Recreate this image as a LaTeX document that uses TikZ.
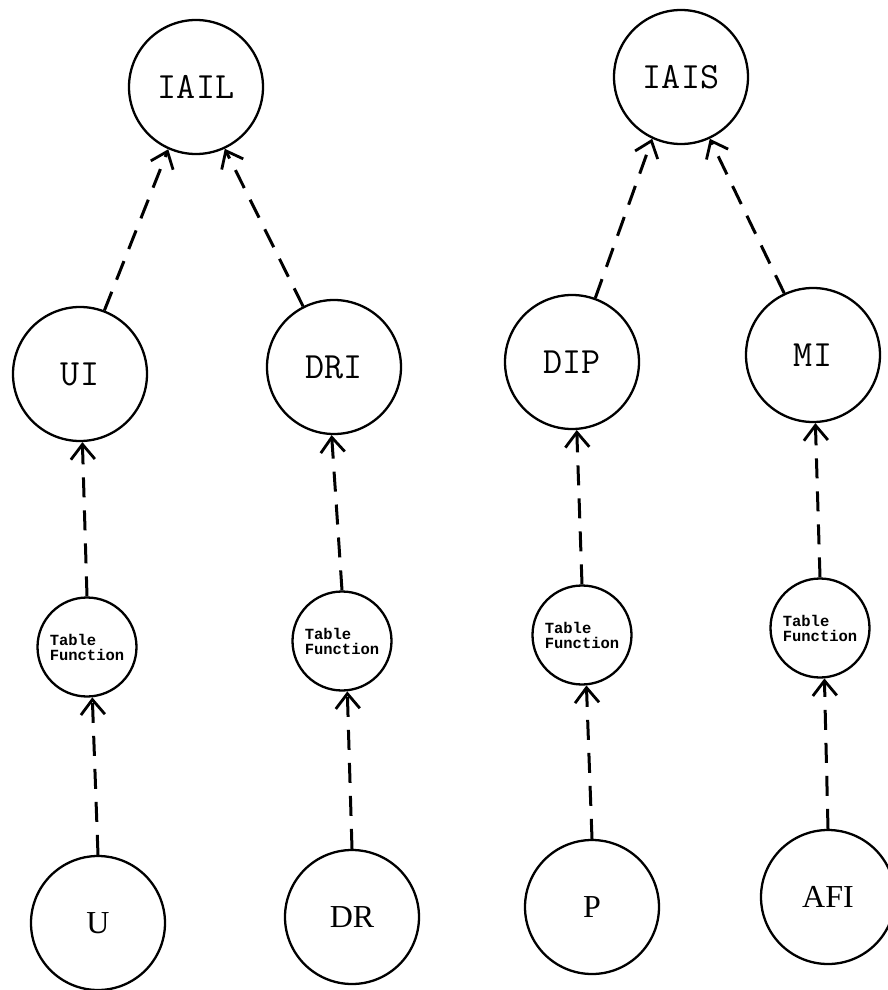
\documentclass[tikz,border=0pt]{standalone}
\usepackage{fontspec}
\newfontfamily\tablefont{Liberation Mono}
\newfontfamily\basefont{Liberation Serif}
\usetikzlibrary{arrows.meta}
\begin{document}
\begin{tikzpicture}[x=1pt,y=-1pt,
  big/.style={circle,draw,line width=2.3pt,minimum size=134pt,inner sep=0pt},
  tyname/.style={font=\ttfamily\fontsize{37}{40}\selectfont},
  roname/.style={font=\basefont\fontsize{32}{34}\selectfont},
  tf/.style={circle,draw,line width=2.3pt,minimum size=99pt,inner sep=0pt,
    align=left,font=\tablefont\bfseries\fontsize{15.5}{15}\selectfont},
  link/.style={line width=3pt,dash pattern=on 20pt off 13pt,
    -{Straight Barb[length=15pt,width=24pt,line width=2.8pt]}}
]
\useasboundingbox (0,0) rectangle (887,990);

% aggregate indices
\node[big,tyname] (IAIL) at (196,87) {IAIL};
\node[big,tyname] (IAIS) at (681,77) {IAIS};

% intermediate indices
\node[big,tyname] (UI)  at (80,374)  {UI};
\node[big,tyname] (DRI) at (334,367) {DRI};
\node[big,tyname] (DIP) at (572,362) {DIP};
\node[big,tyname] (MI)  at (813,355) {MI};

% table functions
\node[tf] (TF1) at (87,647)  {Table\\Function};
\node[tf] (TF2) at (342,641) {Table\\Function};
\node[tf] (TF3) at (582,635) {Table\\Function};
\node[tf] (TF4) at (820,628) {Table\\Function};

% base variables
\node[big,roname] (U)   at (98,923)  {U};
\node[big,roname] (DR)  at (352,917) {DR};
\node[big,roname] (P)   at (592,907) {P};
\node[big,roname] (AFI) at (828,897) {AFI};

% influence links
\draw[link] (UI.69)   -- (IAIL.246);
\draw[link] (DRI.117) -- (IAIL.295);
\draw[link] (DIP.70)  -- (IAIS.245);
\draw[link] (MI.115)  -- (IAIS.295);

\draw[link] (TF1.north) -- (UI.272);
\draw[link] (TF2.north) -- (DRI.268);
\draw[link] (TF3.north) -- (DIP.274);
\draw[link] (TF4.north) -- (MI.272);

\draw[link] (U.north)   -- (TF1.276);
\draw[link] (DR.north)  -- (TF2.276);
\draw[link] (P.north)   -- (TF3.275);
\draw[link] (AFI.north) -- (TF4.275);
\end{tikzpicture}
\end{document}
